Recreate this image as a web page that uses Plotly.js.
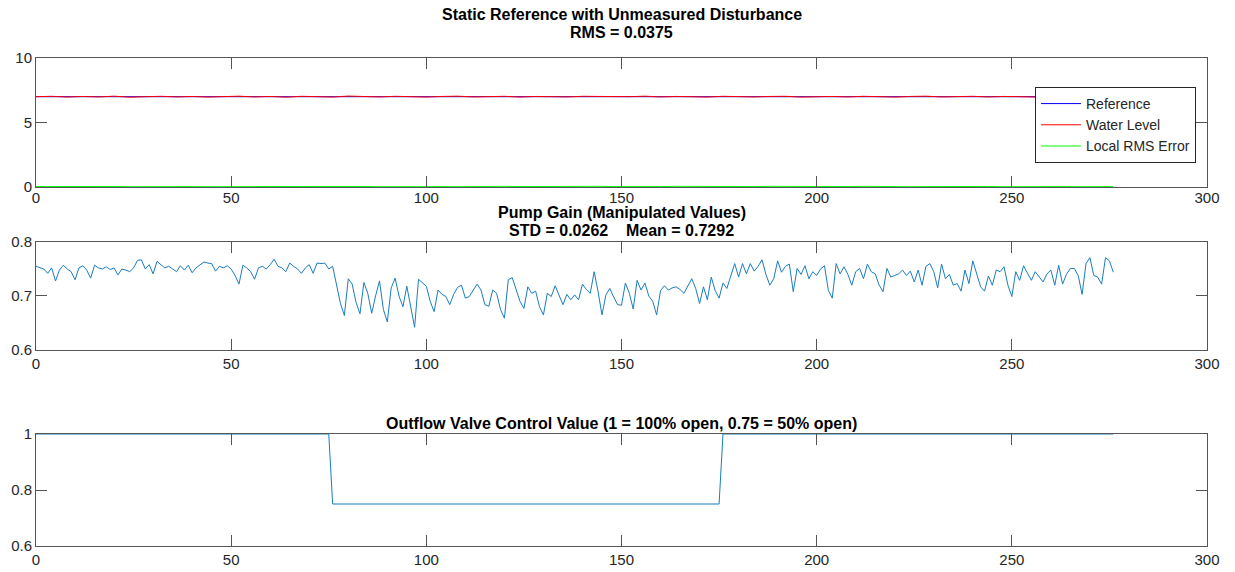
<!DOCTYPE html>
<html>
<head>
<meta charset="utf-8">
<script src="https://cdn.plot.ly/plotly-3.0.1.min.js"></script>
<style>
html,body{margin:0;padding:0;background:#fff;}
#chart{width:1235px;height:572px;}
</style>
</head>
<body>
<div id="chart"></div>
<script>
// ---- Data ----
const titles = {
  top1: "Static Reference with Unmeasured Disturbance",
  top2: "RMS = 0.0375",
  mid1: "Pump Gain (Manipulated Values)",
  mid2: "STD = 0.0262\u00a0\u00a0\u00a0\u00a0Mean = 0.7292",
  bot1: "Outflow Valve Control Value (1 = 100% open, 0.75 = 50% open)"
};
const legendNames = ["Reference", "Water Level", "Local RMS Error"];

// Subplot 1 (sampled every 4 s)
const sampleStep1 = 4;
const referenceX = [0, 276];
const referenceY = [7, 7];
const waterLevel = [7.00,7.03,6.97,7.02,6.98,7.04,6.96,7.00,7.03,6.98,
                    7.02,6.97,7.00,7.04,6.98,7.02,6.96,7.03,7.00,6.97,
                    7.05,7.02,6.98,7.03,7.00,6.97,7.02,7.04,6.98,7.00,
                    7.03,6.97,7.02,7.00,6.98,7.03,7.02,6.97,7.00,7.04,
                    6.98,7.02,7.00,6.97,7.03,7.00,6.98,7.02,7.03,6.97,
                    7.00,7.02,6.98,7.03,7.00,6.97,7.02,7.04,6.98,7.00,
                    7.03,6.98,7.02,7.00,6.97,7.03,7.00,7.02,6.98,7.00];
const localRms = [0.03,0.04,0.02,0.05,0.03,0.04,0.02,0.03,0.05,0.04,
                  0.03,0.02,0.04,0.05,0.03,0.04,0.02,0.03,0.04,0.05,
                  0.03,0.04,0.02,0.03,0.05,0.04,0.03,0.02,0.04,0.03,
                  0.05,0.03,0.04,0.02,0.03,0.04,0.05,0.03,0.02,0.04,
                  0.03,0.05,0.04,0.03,0.02,0.04,0.03,0.05,0.04,0.03,
                  0.02,0.04,0.03,0.05,0.03,0.04,0.02,0.03,0.04,0.05,
                  0.03,0.04,0.02,0.03,0.05,0.04,0.03,0.02,0.04,0.03];

// Subplot 2 (sampled every 1 s, t = 0..276)
const pumpGain = [
0.755,0.752,0.750,0.742,0.752,0.728,0.748,0.757,0.750,0.745,
0.730,0.752,0.756,0.748,0.733,0.757,0.752,0.750,0.754,0.749,
0.752,0.739,0.750,0.748,0.745,0.752,0.766,0.767,0.750,0.758,
0.741,0.764,0.758,0.752,0.755,0.750,0.745,0.756,0.748,0.757,
0.743,0.752,0.758,0.763,0.761,0.760,0.746,0.755,0.752,0.756,
0.750,0.738,0.722,0.757,0.752,0.745,0.731,0.752,0.755,0.750,
0.758,0.768,0.755,0.752,0.745,0.761,0.755,0.750,0.742,0.752,
0.758,0.742,0.761,0.760,0.761,0.750,0.755,0.720,0.686,0.664,
0.732,0.722,0.688,0.667,0.725,0.705,0.668,0.700,0.728,0.675,
0.652,0.715,0.733,0.700,0.680,0.718,0.680,0.642,0.731,0.725,
0.718,0.690,0.671,0.711,0.703,0.699,0.684,0.703,0.716,0.720,
0.696,0.699,0.710,0.722,0.711,0.684,0.681,0.711,0.705,0.675,
0.659,0.730,0.734,0.712,0.690,0.677,0.717,0.705,0.709,0.680,
0.665,0.705,0.699,0.719,0.700,0.684,0.703,0.693,0.702,0.693,
0.722,0.712,0.705,0.745,0.708,0.665,0.702,0.714,0.698,0.684,
0.683,0.724,0.705,0.676,0.729,0.711,0.724,0.700,0.690,0.665,
0.710,0.719,0.711,0.715,0.717,0.712,0.705,0.720,0.732,0.714,
0.686,0.717,0.693,0.735,0.710,0.696,0.724,0.714,0.738,0.760,
0.735,0.760,0.741,0.760,0.746,0.755,0.767,0.740,0.720,0.732,
0.765,0.744,0.755,0.759,0.708,0.751,0.740,0.756,0.732,0.745,
0.738,0.750,0.756,0.710,0.696,0.760,0.741,0.754,0.740,0.720,
0.745,0.751,0.732,0.759,0.745,0.741,0.720,0.708,0.751,0.735,
0.738,0.741,0.748,0.738,0.746,0.726,0.748,0.720,0.755,0.760,
0.745,0.715,0.759,0.732,0.740,0.720,0.723,0.709,0.748,0.723,
0.765,0.741,0.717,0.709,0.737,0.720,0.748,0.745,0.754,0.720,
0.699,0.745,0.729,0.756,0.741,0.729,0.745,0.736,0.726,0.741,
0.748,0.720,0.757,0.722,0.740,0.751,0.751,0.738,0.703,0.760,
0.771,0.738,0.735,0.722,0.771,0.765,0.744];

// Subplot 3 (valve command breakpoints)
const valveT = [0, 75, 76, 175, 176, 276];
const valveV = [1, 1, 0.75, 0.75, 1, 1];

const xTicks = [0, 50, 100, 150, 200, 250, 300];
const y1Ticks = [0, 5, 10];
const y2Ticks = [0.6, 0.7, 0.8];
const y3Ticks = [0.6, 0.8, 1];

// ---- Build ----
const t1 = waterLevel.map((_, i) => i * sampleStep1);
const t2 = pumpGain.map((_, i) => i);

const FONT = "Liberation Sans, Arial, Helvetica, sans-serif";
const AX = "#262626";
const LINE_BLUE = "#1a7dbf";

const traces = [
  {x: referenceX, y: referenceY, name: legendNames[0], type: "scatter", mode: "lines",
   line: {color: "#0000FF", width: 1}, xaxis: "x", yaxis: "y"},
  {x: t1, y: waterLevel, name: legendNames[1], type: "scatter", mode: "lines",
   line: {color: "#FF0000", width: 1}, xaxis: "x", yaxis: "y"},
  {x: t1, y: localRms, name: legendNames[2], type: "scatter", mode: "lines",
   line: {color: "#00FF00", width: 1}, xaxis: "x", yaxis: "y"},
  {x: t2, y: pumpGain, showlegend: false, type: "scatter", mode: "lines",
   line: {color: LINE_BLUE, width: 1}, xaxis: "x2", yaxis: "y2"},
  {x: valveT, y: valveV, showlegend: false, type: "scatter", mode: "lines",
   line: {color: LINE_BLUE, width: 1}, xaxis: "x3", yaxis: "y3"}
];

function xAxis(anchor, standoff) {
  return {
    anchor: anchor, domain: [0, 1], range: [0, 300], tickvals: xTicks,
    ticks: "inside", ticklen: 11, tickwidth: 1, tickcolor: "#555",
    showline: true, linecolor: "#555", linewidth: 1, mirror: "ticks",
    showgrid: false, zeroline: false, ticklabelstandoff: standoff,
    tickfont: {family: FONT, size: 15, color: AX}, fixedrange: true
  };
}
function yAxis(anchor, domain, range, tv, tt) {
  return {
    anchor: anchor, domain: domain, range: range, tickvals: tv, ticktext: tt,
    ticks: "inside", ticklen: 11, tickwidth: 1, tickcolor: "#555",
    showline: true, linecolor: "#555", linewidth: 1, mirror: "ticks",
    showgrid: false, zeroline: false,
    tickfont: {family: FONT, size: 15, color: AX}, fixedrange: true
  };
}

const titleFont = {family: FONT, size: 16, color: "#000"};
// place a title line at a pixel row (py) of the 572 px figure
function ann(text, py) {
  return {text: text, xref: "paper", yref: "paper", x: 0.5, y: (546 - py) / 488,
          xanchor: "center", yanchor: "middle", showarrow: false,
          font: titleFont};
}

const layout = {
  width: 1235, height: 572,
  margin: {l: 36, r: 28, t: 58, b: 26},
  paper_bgcolor: "#fff", plot_bgcolor: "#fff",
  showlegend: true,
  legend: {
    x: 0.9906, y: 0.9406, xanchor: "right", yanchor: "top",
    bgcolor: "#fff", bordercolor: AX, borderwidth: 1,
    font: {family: FONT, size: 14, color: AX},
    itemwidth: 40, tracegroupgap: 0
  },
  xaxis: xAxis("y", -3),
  yaxis: yAxis("x", [0.7357, 1], [0, 10], y1Ticks, y1Ticks.map(String)),
  xaxis2: xAxis("y2", 0),
  yaxis2: yAxis("x2", [0.4016, 0.623], [0.6, 0.8], y2Ticks, y2Ticks.map(v => v.toFixed(1))),
  xaxis3: xAxis("y3", 0),
  yaxis3: yAxis("x3", [0, 0.2295], [0.6, 1], y3Ticks, y3Ticks.map(String)),
  annotations: [
    ann("<b>" + titles.top1 + "</b>", 14),
    ann("<b>" + titles.top2 + "</b>", 32),
    ann("<b>" + titles.mid1 + "</b>", 212.5),
    ann("<b>" + titles.mid2 + "</b>", 230.5),
    ann("<b>" + titles.bot1 + "</b>", 423)
  ],
  hovermode: false
};

Plotly.newPlot("chart", traces, layout, {displayModeBar: false, staticPlot: true});
</script>
</body>
</html>
